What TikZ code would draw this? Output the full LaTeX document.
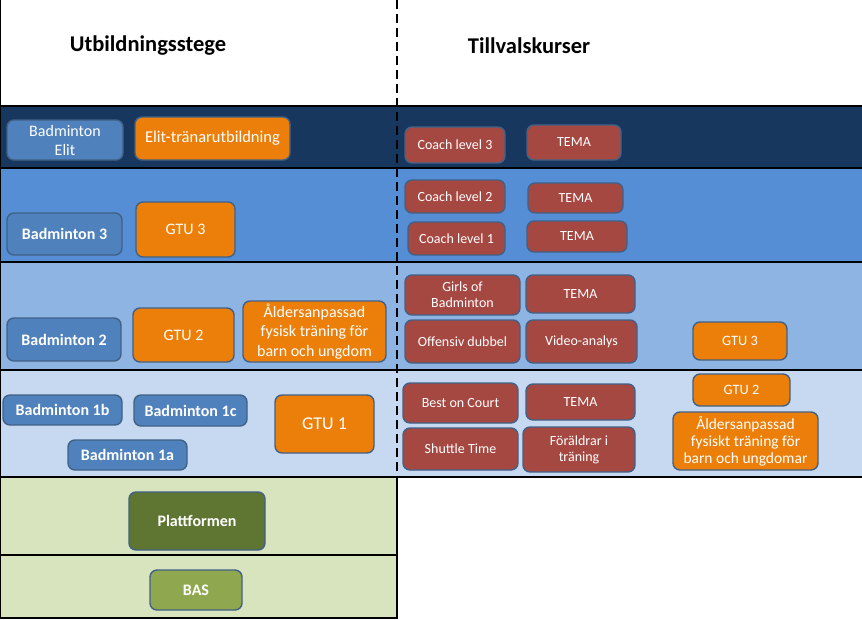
\documentclass[tikz,border=0pt]{standalone}
\usepackage{fontspec}
\setmainfont{Carlito}
\usepackage{xcolor}
\usetikzlibrary{positioning}

\definecolor{navyband}{RGB}{23,55,94}
\definecolor{midband}{RGB}{85,142,213}
\definecolor{lightband}{RGB}{142,180,227}
\definecolor{paleband}{RGB}{198,217,241}
\definecolor{greenband}{RGB}{215,228,189}
\definecolor{boxblue}{RGB}{79,129,189}
\definecolor{boxorange}{RGB}{236,127,10}
\definecolor{boxred}{RGB}{166,72,66}
\definecolor{boxdkgreen}{RGB}{95,117,50}
\definecolor{boxgreen}{RGB}{143,168,80}
\definecolor{boxline}{RGB}{65,97,135}

\tikzset{
  course/.style={draw=boxline, line width=1.4pt, rounded corners=7pt, text=white,
    align=center, inner sep=1pt},
  bluebox/.style={course, fill=boxblue},
  orangebox/.style={course, fill=boxorange},
  redbox/.style={course, fill=boxred},
  sep/.style={line width=1.6pt, black},
}
\newcommand{\fs}[2]{\fontsize{#1}{#2}\selectfont}

\begin{document}
\begin{tikzpicture}[x=1pt, y=-1pt]
  \useasboundingbox (0,0) rectangle (862,619);
  % bands
  \fill[navyband] (0,106) rectangle (862,168);
  \fill[midband] (0,168) rectangle (862,262);
  \fill[lightband] (0,262) rectangle (862,370);
  \fill[paleband] (0,370) rectangle (862,477);
  \fill[greenband] (0,477) rectangle (397,619);
  \draw[sep] (0,106) -- (862,106);
  \draw[sep] (0,168) -- (862,168);
  \draw[sep] (0,262) -- (862,262);
  \draw[sep] (0,370) -- (862,370);
  \draw[sep] (0,477) -- (862,477);
  \draw[sep] (0,555) -- (397,555);
  \draw[sep] (0,618) -- (397,618);
  \draw[line width=1.2pt] (0.6,0) -- (0.6,619);
  \draw[line width=1.2pt] (397,477) -- (397,619);
  \draw[line width=1.4pt, dash pattern=on 9pt off 5pt] (397,0) -- (397,477);

  % headings
  \node[font=\fs{22.5}{26}\bfseries] (ladder) at (148,46) {Utbildningsstege};
  \node[font=\fs{22.5}{26}\bfseries] (extras) at (529,46) {Tillvalskurser};

  % left side
  \node[bluebox, minimum width=116, minimum height=40, font=\fs{16}{19}] (badElit) at (65,140) {Badminton\\Elit};
  \node[orangebox, minimum width=155, minimum height=43, font=\fs{16.5}{19}] (eliteTr) at (212.5,138.5) {Elit-tränarutbildning};
  \node[bluebox, minimum width=115, minimum height=42, font=\fs{16}{19}\bfseries] (bad3) at (64.5,234) {Badminton 3};
  \node[orangebox, minimum width=99, minimum height=55, font=\fs{16}{19}] (gtu3) at (185.5,229.5) {GTU 3};
  \node[bluebox, minimum width=114, minimum height=43, font=\fs{16}{19}\bfseries] (bad2) at (64,339.5) {Badminton 2};
  \node[orangebox, minimum width=101, minimum height=54, font=\fs{16}{19}] (gtu2) at (183.5,335) {GTU 2};
  \node[orangebox, minimum width=143, minimum height=61, font=\fs{16}{19.5}] (ageFit) at (314.5,331.5) {Åldersanpassad\\fysisk träning för\\barn och ungdom};
  \node[bluebox, minimum width=119, minimum height=30, font=\fs{16}{19}\bfseries] (bad1b) at (62.5,410) {Badminton 1b};
  \node[bluebox, minimum width=113, minimum height=31, font=\fs{16}{19}\bfseries] (bad1c) at (190.5,410.5) {Badminton 1c};
  \node[bluebox, minimum width=119, minimum height=30, font=\fs{16}{19}\bfseries] (bad1a) at (127.5,455) {Badminton 1a};
  \node[orangebox, minimum width=99, minimum height=58, font=\fs{18}{20}] (gtu1) at (324.5,424) {GTU 1};
  \node[course, fill=boxdkgreen, minimum width=136, minimum height=58, font=\fs{16}{19}\bfseries] (platform) at (197,521) {Plattformen};
  \node[course, fill=boxgreen, minimum width=92, minimum height=40, font=\fs{16}{19}\bfseries] (bas) at (196,590) {BAS};

  % right side
  \node[redbox, minimum width=100, minimum height=36, font=\fs{14}{16}] (coach3) at (455,145) {Coach level 3};
  \node[redbox, minimum width=94, minimum height=35, font=\fs{14}{16}] (tema3) at (574,142.5) {TEMA};
  \node[redbox, minimum width=100, minimum height=33, font=\fs{14}{16}] (coach2) at (455,196.5) {Coach level 2};
  \node[redbox, minimum width=95, minimum height=30, font=\fs{14}{16}] (tema2) at (575.5,198) {TEMA};
  \node[redbox, minimum width=97, minimum height=33, font=\fs{14}{16}] (coach1) at (456.5,238.5) {Coach level 1};
  \node[redbox, minimum width=100, minimum height=31, font=\fs{14}{16}] (tema1) at (577,236.5) {TEMA};
  \node[redbox, minimum width=115, minimum height=40, font=\fs{14}{16}] (girls) at (462.5,295) {Girls of\\Badminton};
  \node[redbox, minimum width=109, minimum height=38, font=\fs{14}{16}] (temaB) at (580.5,294) {TEMA};
  \node[redbox, minimum width=115, minimum height=43, font=\fs{14}{16}] (offDub) at (462.5,341.5) {Offensiv dubbel};
  \node[redbox, minimum width=111, minimum height=43, font=\fs{14}{16}] (video) at (581.5,341.5) {Video-analys};
  \node[orangebox, minimum width=94, minimum height=38, font=\fs{14.3}{16}] (gtu3r) at (740,341) {GTU 3};
  \node[redbox, minimum width=115, minimum height=40, font=\fs{14}{16}] (bestCourt) at (460.5,403) {Best on Court};
  \node[redbox, minimum width=109, minimum height=36, font=\fs{14}{16}] (temaA) at (580.5,402) {TEMA};
  \node[redbox, minimum width=115, minimum height=42, font=\fs{14}{16}] (shuttle) at (460.5,449) {Shuttle Time};
  \node[redbox, minimum width=112, minimum height=45, font=\fs{14}{16}] (parents) at (579,449.5) {Föräldrar i\\träning};
  \node[orangebox, minimum width=97, minimum height=32, font=\fs{14.3}{16}] (gtu2r) at (741.5,390) {GTU 2};
  \node[orangebox, minimum width=145, minimum height=58, font=\fs{15.5}{17}] (ageFitR) at (745.5,441) {Åldersanpassad\\fysiskt träning för\\barn och ungdomar};
\end{tikzpicture}
\end{document}
